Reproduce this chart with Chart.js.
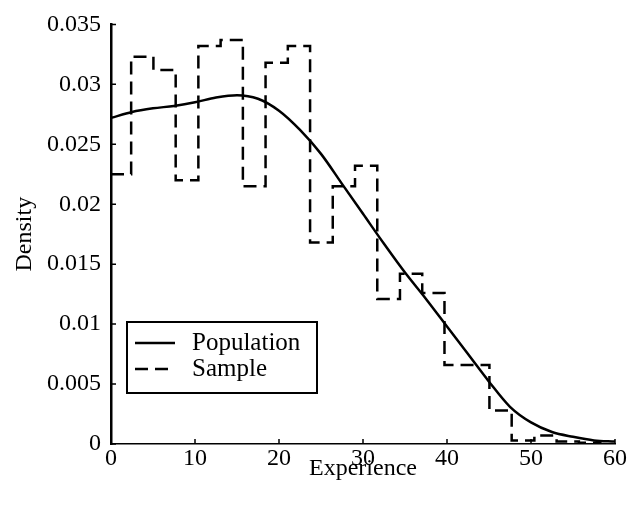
<!DOCTYPE html>
<html>
<head>
<meta charset="utf-8">
<script src="https://cdn.jsdelivr.net/npm/chart.js@4/dist/chart.umd.min.js"></script>
<style>
  html, body { margin: 0; padding: 0; background: #fff; }
  #wrap { width: 630px; height: 505px; }
</style>
</head>
<body>
<div id="wrap"><canvas id="densityChart" width="630" height="505"></canvas></div>
<script>
// Werte
const xTicks = [0, 10, 20, 30, 40, 50, 60];
const yTicks = [0, 0.005, 0.01, 0.015, 0.02, 0.025, 0.03, 0.035];

// Population (glatte Kurve)
const popExperience = [0, 2.5, 5, 7.5, 10, 12.5, 15, 17.5, 20, 22.5, 25, 27.5, 30, 32.5, 35, 37.5, 40, 42.5, 45, 47.5, 50, 52.5, 55, 57.5, 60];
const popDensity = [0.0272, 0.0277, 0.0280, 0.0282, 0.0285, 0.0289, 0.0291, 0.0288, 0.0278, 0.0262, 0.0242, 0.0217, 0.0192, 0.0167, 0.0143, 0.0121, 0.0098, 0.0075, 0.0052, 0.0031, 0.0018, 0.0010, 0.0006, 0.0003, 0.0002];

// Sample (Histogramm als Treppe)
const binEdges = [0, 2.4, 5.05, 7.7, 10.4, 13.05, 15.7, 18.4, 21.05, 23.7, 26.4, 29.05, 31.7, 34.4, 37.05, 39.7, 42.4, 45.05, 47.7, 50.4, 53.05, 55.7, 58.4];
const sampleDensity = [0.0225, 0.0323, 0.0312, 0.0220, 0.0332, 0.0337, 0.0215, 0.0318, 0.0332, 0.0168, 0.0215, 0.0232, 0.0121, 0.0142, 0.0126, 0.0066, 0.0066, 0.0028, 0.0003, 0.0007, 0.0002, 0.0001];

const FONT = "'Liberation Serif', 'Times New Roman', serif";

const popPoints = popExperience.map((x, i) => ({ x, y: popDensity[i] }));
const samplePoints = sampleDensity.map((y, i) => ({ x: binEdges[i], y }));
samplePoints.push({ x: binEdges[binEdges.length - 1], y: sampleDensity[sampleDensity.length - 1] });

// kurze Ticks nach innen
const innerTicks = {
  id: "innerTicks",
  afterDatasetsDraw(chart) {
    const { ctx, chartArea, scales } = chart;
    ctx.save();
    ctx.strokeStyle = "#000";
    ctx.lineWidth = 1.5;
    ctx.beginPath();
    for (const v of yTicks) {
      const y = scales.y.getPixelForValue(v);
      ctx.moveTo(chartArea.left, y);
      ctx.lineTo(chartArea.left + 5, y);
    }
    for (const v of xTicks) {
      const x = scales.x.getPixelForValue(v);
      ctx.moveTo(x, chartArea.bottom);
      ctx.lineTo(x, chartArea.bottom - 5);
    }
    ctx.stroke();
    ctx.restore();
  },
};

// Legende im Plotbereich
const boxLegend = {
  id: "boxLegend",
  afterDraw(chart) {
    const { ctx, chartArea } = chart;
    const left = chartArea.left + 16;
    const top = chartArea.bottom - 122;
    const w = 190, h = 71;
    ctx.save();
    ctx.fillStyle = "#fff";
    ctx.fillRect(left, top, w, h);
    ctx.strokeStyle = "#000";
    ctx.lineWidth = 2;
    ctx.strokeRect(left, top, w, h);
    chart.data.datasets.forEach((ds, i) => {
      const y = top + 21 + i * 26;
      ctx.beginPath();
      ctx.lineWidth = 2.5;
      ctx.setLineDash(ds.borderDash || []);
      ctx.moveTo(left + 8, y);
      ctx.lineTo(left + 48, y);
      ctx.stroke();
      ctx.setLineDash([]);
      ctx.fillStyle = "#000";
      ctx.font = "25px " + FONT;
      ctx.textBaseline = "middle";
      ctx.fillText(ds.label, left + 65, y);
    });
    ctx.restore();
  },
};

new Chart(document.getElementById("densityChart"), {
  type: "line",
  data: {
    datasets: [
      {
        label: "Population",
        data: popPoints,
        borderColor: "#000",
        borderWidth: 2.5,
        pointRadius: 0,
        cubicInterpolationMode: "monotone",
        fill: false,
      },
      {
        label: "Sample",
        data: samplePoints,
        borderColor: "#000",
        borderWidth: 2.5,
        borderDash: [13, 7],
        pointRadius: 0,
        stepped: true,
        fill: false,
      },
    ],
  },
  options: {
    responsive: false,
    animation: false,
    layout: { padding: { top: 23, right: 15, bottom: 0, left: 0 } },
    plugins: {
      legend: { display: false },
      tooltip: { enabled: false },
    },
    scales: {
      x: {
        type: "linear",
        min: 0,
        max: 60,
        afterFit: (s) => { s.height = 61; },
        afterBuildTicks: (s) => { s.ticks = xTicks.map((v) => ({ value: v })); },
        grid: { display: false, drawTicks: false },
        border: { display: true, color: "#000", width: 1.5 },
        ticks: { color: "#000", padding: 0, font: { family: FONT, size: 24 }, maxRotation: 0 },
        title: {
          display: true,
          text: "Experience",
          color: "#000",
          font: { family: FONT, size: 24 },
          padding: { top: 0, bottom: 22 },
        },
      },
      y: {
        type: "linear",
        min: 0,
        max: 0.035,
        afterFit: (s) => { s.width = 111; },
        afterBuildTicks: (s) => { s.ticks = yTicks.map((v) => ({ value: v })); },
        grid: { display: false, drawTicks: false },
        border: { display: true, color: "#000", width: 2.5 },
        ticks: {
          color: "#000",
          padding: 10,
          font: { family: FONT, size: 24 },
          callback: (v) => String(Number(v.toFixed(3))),
        },
        title: {
          display: true,
          text: "Density",
          color: "#000",
          font: { family: FONT, size: 24 },
          padding: { top: 10, bottom: 0 },
        },
      },
    },
  },
  plugins: [innerTicks, boxLegend],
});
</script>
</body>
</html>
